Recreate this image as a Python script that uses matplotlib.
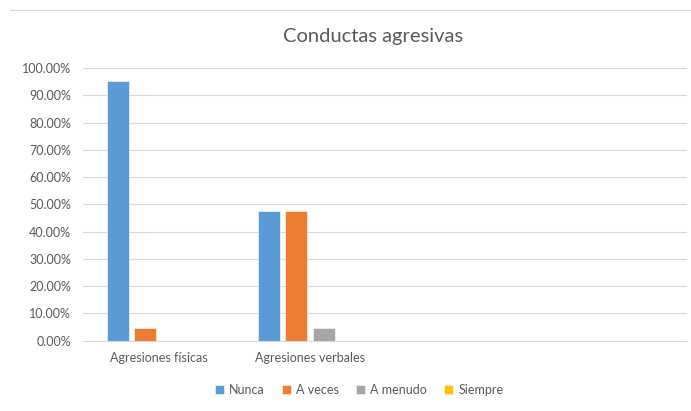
import numpy as np
import matplotlib.pyplot as plt
from matplotlib.ticker import PercentFormatter

plt.rcParams['font.family'] = ['Lato', 'DejaVu Sans']

categories = ['Agresiones físicas', 'Agresiones verbales', '', '']
series = ['Nunca', 'A veces', 'A menudo', 'Siempre']
nunca = [95.24, 47.62, 0, 0]
a_veces = [4.76, 47.62, 0, 0]
a_menudo = [0, 4.76, 0, 0]
siempre = [0, 0, 0, 0]
values = [nunca, a_veces, a_menudo, siempre]
colors = ['#5B9BD5', '#ED7D31', '#A5A5A5', '#FFC000']

text_color = '#595959'
grid_color = '#D9D9D9'

fig = plt.figure(figsize=(6.91, 4.11), dpi=100)
ax = fig.add_axes([0.1208, 0.171, 0.874, 0.663])

x = np.arange(len(categories))
step = 0.182
width = 0.144
for i, (name, vals, c) in enumerate(zip(series, values, colors)):
    ax.bar(x + (i - 1.5) * step, vals, width, color=c, label=name,
           edgecolor='white', linewidth=0.4, zorder=3)

ax.set_xlim(-0.5, len(categories) - 0.5)
ax.set_ylim(0, 100)
ax.set_yticks(np.arange(0, 101, 10))
ax.yaxis.set_major_formatter(PercentFormatter(decimals=2))
ax.set_xticks(x)
ax.set_xticklabels(categories)
ax.tick_params(axis='both', length=0, colors=text_color, labelsize=9)
ax.tick_params(axis='x', pad=8)
ax.tick_params(axis='y', pad=9)
ax.grid(axis='y', color=grid_color, linewidth=0.8, zorder=0)
for s in ['top', 'right', 'left']:
    ax.spines[s].set_visible(False)
ax.spines['bottom'].set_color(grid_color)

fig.text(0.54, 0.91, 'Conductas agresivas', ha='center', va='center',
         fontsize=14.5, color=text_color)

# thin frame line at the top of the chart area
fig.add_artist(plt.Line2D([0.015, 1.0], [0.975, 0.975], color=grid_color,
                          linewidth=0.8, transform=fig.transFigure))

fig.legend(loc='center', bbox_to_anchor=(0.52, 0.051), ncol=4, frameon=False,
           fontsize=9, handlelength=0.7, handleheight=0.7, handletextpad=0.4,
           columnspacing=1.4, labelcolor=text_color)

fig.savefig('out.png', dpi=100, facecolor='white')
